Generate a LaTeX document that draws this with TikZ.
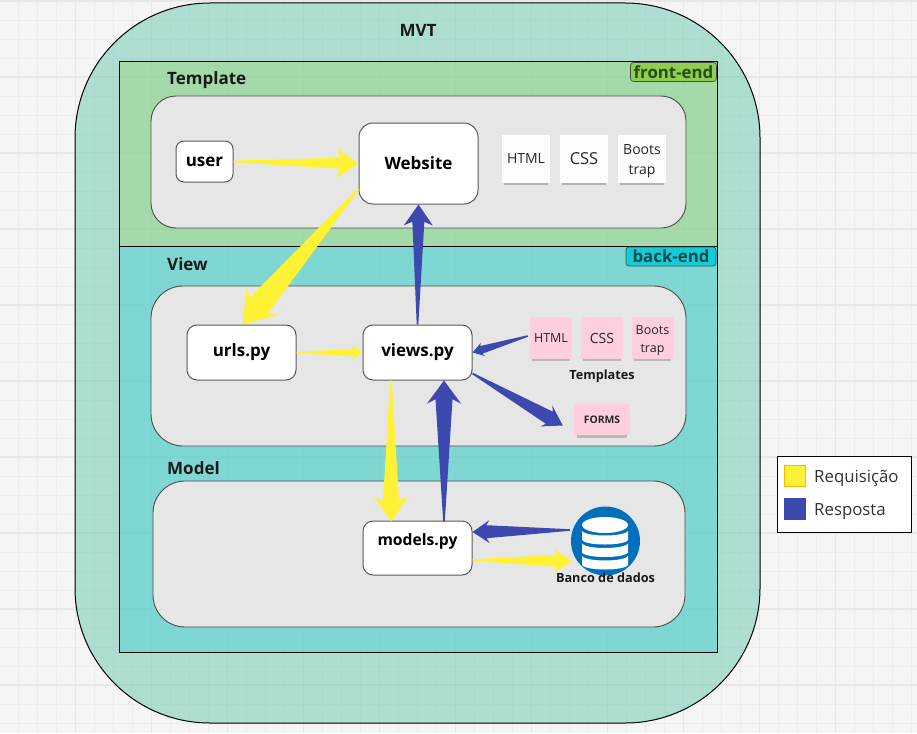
\documentclass[tikz,border=0pt]{standalone}
\usepackage{fontspec}
\setmainfont{Open Sans}
\usetikzlibrary{calc, shadows}

\definecolor{reqcol}{HTML}{FFF234}
\definecolor{respcol}{HTML}{3E49AF}
\definecolor{panelcol}{HTML}{E6E6E6}
\definecolor{pinkcol}{HTML}{FFCFDD}
\definecolor{dbcol}{HTML}{0070BD}

\begin{document}
\begin{tikzpicture}[x=1pt, y=-1pt,
    zone/.style={draw=black, line width=1pt, inner sep=0pt, fill opacity=0.5, text opacity=1},
    panel/.style={draw=black!70, line width=0.9pt, fill=panelcol, inner sep=0pt},
    box/.style={draw=black!65, line width=1pt, fill=white, inner sep=0pt, font=\fontsize{17}{20}\selectfont\bfseries},
    title/.style={font=\fontsize{17}{20}\selectfont\bfseries, inner sep=0pt, text=black!90},
    tag/.style={draw=black!70, line width=0.7pt, rounded corners=3pt, inner sep=0pt, minimum height=19pt, font=\fontsize{16.8}{18}\selectfont\bfseries},
    note/.style={inner sep=0pt, align=center, text=black!85, font=\fontsize{14}{20}\selectfont},
    whitenote/.style={note, fill=white!80!blue!4, minimum width=48pt, minimum height=48pt, drop shadow={shadow xshift=0pt, shadow yshift=-5pt, shadow scale=0.9, opacity=0.5}},
    pinknote/.style={note, fill=pinkcol, font=\fontsize{12.5}{18}\selectfont, minimum width=42pt, minimum height=42pt, drop shadow={shadow xshift=0pt, shadow yshift=-4.5pt, shadow scale=0.9, opacity=0.45}},
    small/.style={inner sep=0pt, text=black!90, font=\fontsize{12.7}{15}\selectfont\bfseries},
    fat/.style n args={3}{to path={
        ($(\tikztostart)!0.8pt!90:(\tikztotarget)$)
        -- ($($(\tikztotarget)!0.82*#2pt!(\tikztostart)$)!#1pt!90:(\tikztotarget)$)
        -- ($($(\tikztotarget)!#2pt!(\tikztostart)$)!#3pt!90:(\tikztotarget)$)
        -- (\tikztotarget)
        -- ($($(\tikztotarget)!#2pt!(\tikztostart)$)!#3pt!-90:(\tikztotarget)$)
        -- ($($(\tikztotarget)!0.82*#2pt!(\tikztostart)$)!#1pt!-90:(\tikztotarget)$)
        -- ($(\tikztostart)!0.8pt!-90:(\tikztotarget)$)
        -- cycle}},
    req/.style n args={3}{fill=reqcol, fat={#1}{#2}{#3}},
    resp/.style n args={3}{fill=respcol, fat={#1}{#2}{#3}},
    legendtext/.style={inner sep=0pt, anchor=west, text=black!80, font=\fontsize{16.8}{20}\selectfont}]

    \useasboundingbox (0,0) rectangle (917,733);
    \fill[black!4] (0,0) rectangle (917,733);
    % grid
    \foreach \gx in {0,...,48} {\draw[black!7, line width=0.8pt] (18.5+19*\gx,0) -- (18.5+19*\gx,733);}
    \foreach \gy in {0,...,38} {\draw[black!7, line width=0.8pt] (0,1+19*\gy) -- (917,1+19*\gy);}
    \foreach \gx in {0,...,11} {\draw[black!9, line width=1.1pt] (-0.5+76*\gx,0) -- (-0.5+76*\gx,733);}
    \foreach \gy in {0,...,9} {\draw[black!9, line width=1.1pt] (0,1+76*\gy) -- (917,1+76*\gy);}

    % zones
    \node[zone, fill={rgb,255:red,104;green,198;blue,174}, rounded corners=135pt, minimum width=685pt, minimum height=720pt] (mvt) at (417.5,363) {};
    \node[zone, fill={rgb,255:red,156;green,215;blue,133}, minimum width=598pt, minimum height=184pt] (front) at (418,154) {};
    \node[zone, fill={rgb,255:red,82;green,211;blue,213}, minimum width=598pt, minimum height=406pt] (back) at (418,449) {};

    \node[title] (mvtlabel) at (418,30.5) {MVT};
    \node[title, anchor=west] (templatelabel) at (167,80) {Template};
    \node[title, anchor=west] (viewlabel) at (167,264) {View};
    \node[title, anchor=west] (modellabel) at (167,468) {Model};

    \node[tag, fill={rgb,255:red,139;green,209;blue,79}, text={rgb,255:red,44;green,74;blue,28}, minimum width=86pt] (frontend) at (673.5,72) {front-end};
    \node[tag, fill={rgb,255:red,19;green,205;blue,212}, text={rgb,255:red,12;green,72;blue,80}, minimum width=90pt] (backend) at (671,256.5) {back-end};

    % panels
    \node[panel, rounded corners=25pt, minimum width=535pt, minimum height=132pt] (templatepanel) at (418.5,162) {};
    \node[panel, rounded corners=32pt, minimum width=535pt, minimum height=160pt] (viewpanel) at (418.5,366) {};
    \node[panel, rounded corners=32pt, minimum width=532pt, minimum height=146pt] (modelpanel) at (419,554) {};

    % boxes
    \node[box, rounded corners=8pt, minimum width=57pt, minimum height=41pt] (user) at (204.5,161.5) {user};
    \node[box, rounded corners=14pt, minimum width=119pt, minimum height=81pt] (web) at (418.5,163.5) {Website};
    \node[box, rounded corners=10pt, minimum width=109pt, minimum height=55pt] (urls) at (241.5,352.5) {urls.py};
    \node[box, rounded corners=10pt, minimum width=109pt, minimum height=55pt] (views) at (417.5,352.5) {views.py};
    \node[box, rounded corners=10pt, minimum width=109pt, minimum height=54pt, text depth=16pt, font=\fontsize{15.7}{19}\selectfont\bfseries] (models) at (417.5,548) {models.py};

    % notes
    \node[whitenote] (html1) at (526,159) {HTML};
    \node[whitenote, font=\fontsize{16.5}{20}\selectfont] (css1) at (584,159) {CSS};
    \node[whitenote] (boots1) at (642,159) {\rule{0pt}{14pt}Boots\\trap};
    \node[pinknote] (html2) at (551,338) {HTML};
    \node[pinknote, font=\fontsize{14}{17}\selectfont] (css2) at (602,338) {CSS};
    \node[pinknote] (boots2) at (652.5,338) {\rule{0pt}{13pt}Boots\\trap};
    \node[small] (templates) at (602,376) {Templates};
    \node[pinknote, font=\fontsize{10.4}{12}\selectfont\bfseries, minimum width=56pt, minimum height=31pt] (forms) at (602,419.5) {FORMS};

    % database
    \node[circle, fill=dbcol, inner sep=0pt, minimum size=69pt] (db) at (605.5,541) {};
    \fill[white] (605,525) ellipse (23 and 8);
    \foreach \dy in {0,12.5,25} {
        \fill[white] (582,531+\dy) .. controls (586,537+\dy) and (624,537+\dy) .. (628,531+\dy)
            -- (628,540+\dy) .. controls (624,546+\dy) and (586,546+\dy) .. (582,540+\dy) -- cycle;
    }
    \node[small] (dblabel) at (605.5,577.5) {Banco de dados};

    % free ends of the connectors
    \coordinate (webout) at ([yshift=-25.5pt]web.west);
    \coordinate (urlsin) at ([xshift=1pt]urls.north);
    \coordinate (viewsfromhtml) at (views.east);
    \coordinate (viewsout) at ([xshift=55pt,yshift=-21pt]views.center);
    \coordinate (formsin) at ([xshift=-11pt,yshift=-6pt]forms.west);
    \coordinate (htmlout) at ([xshift=-2pt,yshift=2pt]html2.west);
    \coordinate (viewsdown) at ([xshift=-26.5pt]views.south);
    \coordinate (modelsin) at ([xshift=-26.5pt,yshift=-1pt]models.north);
    \coordinate (modelsup) at ([xshift=26.5pt,yshift=-1pt]models.north);
    \coordinate (viewsin) at ([xshift=26.5pt]views.south);
    \coordinate (dbout) at ([xshift=-1pt,yshift=11pt]db.west);
    \coordinate (modelsfromdb) at ([yshift=16pt]models.east);
    \coordinate (modelsout) at ([yshift=-12pt]models.east);
    \coordinate (dbin) at ([xshift=1pt,yshift=-20pt]db.west);

    % yellow
    \path[req={5.5}{22}{15}] (user.east) to (web.west);
    \path[req={12}{31}{21}] (webout) to (urlsin);
    \path[req={3.5}{11}{7.5}] (urls.east) to (views.west);
    \path[req={8}{25}{17.5}] (viewsdown) to (modelsin);
    \path[req={6}{18}{12}] (modelsout) to (dbin);
    % blue
    \path[resp={6}{21}{14.5}] (views.north) to (web.south);
    \path[resp={4}{11}{7}] (htmlout) to (viewsfromhtml);
    \path[resp={7}{19}{12}] (viewsout) to (formsin);
    \path[resp={8.5}{23}{17}] (modelsup) to (viewsin);
    \path[resp={6.5}{17}{11.5}] (dbout) to (modelsfromdb);

    % legend
    \node[draw=black, line width=1pt, fill=white, inner sep=0pt, minimum width=134pt, minimum height=76pt] (legend) at (844,494) {};
    \node[draw=orange!60!yellow, line width=0.8pt, fill=reqcol, inner sep=0pt, minimum size=21pt] (reqswatch) at (795,476) {};
    \node[fill=respcol, inner sep=0pt, minimum size=22pt] (respswatch) at (795,508.5) {};
    \node[legendtext] (reqtext) at (814,478) {Requisição};
    \node[legendtext] (resptext) at (814,511.5) {Resposta};
\end{tikzpicture}
\end{document}
